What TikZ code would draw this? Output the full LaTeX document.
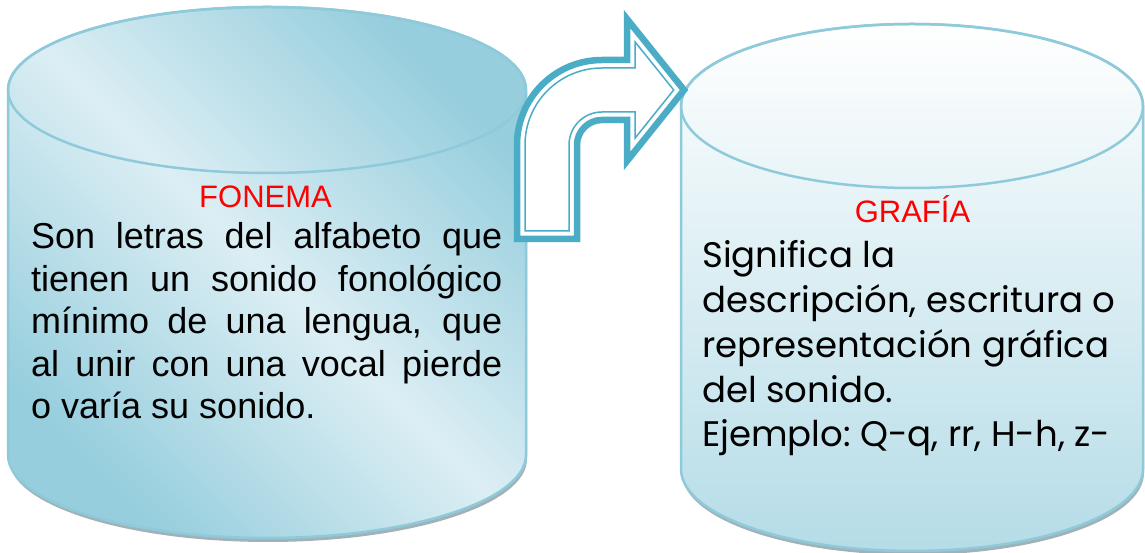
\documentclass[tikz,border=0pt]{standalone}
\usepackage{fontspec}
\setmainfont{Liberation Sans}
\newfontfamily\gothicfont{Poppins}
\definecolor{cylline}{HTML}{8FCADA}
\definecolor{cyldark}{HTML}{96CEDD}
\definecolor{cyllight}{HTML}{DCEEF4}
\definecolor{cylbot}{HTML}{B5DCE7}
\definecolor{cylmid}{HTML}{DDEFF4}
\definecolor{arrowblue}{HTML}{4BACC6}
\definecolor{shadowc}{HTML}{8A9EA6}
\tikzset{
  cylout/.style={draw=cylline, line width=2.5pt},
  shadowfill/.style={fill=shadowc, opacity=0.8},
  titletext/.style={anchor=base, inner sep=0pt, text=red, font=\fontsize{31}{36}\selectfont},
  bodytext/.style={anchor=base west, inner sep=0pt},
  arrowout/.style={draw=arrowblue, fill=white, line width=6.5pt, line join=miter},
  arrowin/.style={draw=arrowblue, line width=1.5pt, line join=miter}
}
\begin{document}
\begin{tikzpicture}[x=1pt,y=1pt]
\useasboundingbox (0,0) rectangle (1145,553);
% ---- left cylinder ----
\begin{scope}[shift={(1,-4)}]
\fill[shadowfill] (8,463) -- (8,98) arc[start angle=180, end angle=360, x radius=259pt, y radius=83pt] -- (526,463) -- cycle;
\end{scope}
\path[cylout, shading=axis, top color=cyldark, bottom color=cyldark, middle color=cyllight, shading angle=-45]
  (8,463) -- (8,98) arc[start angle=180, end angle=360, x radius=259pt, y radius=83pt]
  -- (526,463) arc[start angle=0, end angle=180, x radius=259pt, y radius=83pt] -- cycle;
\draw[cylout] (267,463) ellipse[x radius=259pt, y radius=83pt];
% ---- right cylinder ----
\begin{scope}[shift={(1,-4)}]
\fill[shadowfill] (681,447) -- (681,84) arc[start angle=180, end angle=360, x radius=231pt, y radius=82pt] -- (1143,447) -- cycle;
\end{scope}
\path[cylout, shading=axis, top color=white, middle color=cylmid, bottom color=cylbot]
  (681,447) -- (681,84) arc[start angle=180, end angle=360, x radius=231pt, y radius=82pt]
  -- (1143,447) arc[start angle=0, end angle=180, x radius=231pt, y radius=82pt] -- cycle;
\draw[cylout] (912,447) ellipse[x radius=231pt, y radius=82pt];
% ---- bent arrow ----
\path[arrowout] (517,314) -- (517,408) arc[start angle=180, end angle=90, radius=85pt]
  -- (627,493) -- (627,534) -- (684,463) -- (627,392) -- (627,433) -- (602,433)
  arc[start angle=90, end angle=180, radius=25pt] -- (577,314) -- cycle;
\path[arrowin] (525,322) -- (525,408) arc[start angle=180, end angle=90, radius=77pt]
  -- (635,485) -- (635,511.2) -- (673.7,463) -- (635,414.8) -- (635,441) -- (602,441)
  arc[start angle=90, end angle=180, radius=33pt] -- (569,322) -- cycle;
% ---- texts ----
\node[titletext] (fonema) at (265.5,345) {FONEMA};
\node[bodytext] (fonemaText) at (31,304) {\parbox[t]{471pt}{\fontsize{36}{42.5}\selectfont
\makebox[471pt][s]{Son letras del alfabeto que}\\
\makebox[471pt][s]{tienen un sonido fonológico}\\
\makebox[471pt][s]{mínimo de una lengua, que}\\
\makebox[471pt][s]{al unir con una vocal pierde}\\
o varía su sonido.}};
\node[titletext] (grafia) at (912.5,330) {GRAFÍA};
\node[bodytext] (grafiaText) at (702,285) {\parbox[t]{500pt}{\frenchspacing\gothicfont\fontsize{35.5}{44.75}\selectfont
Significa la\\
descripción, escritura o\\
representación gráfica\\
del sonido.\\
Ejemplo: Q-q, rr, H-h, z-}};
\end{tikzpicture}
\end{document}
